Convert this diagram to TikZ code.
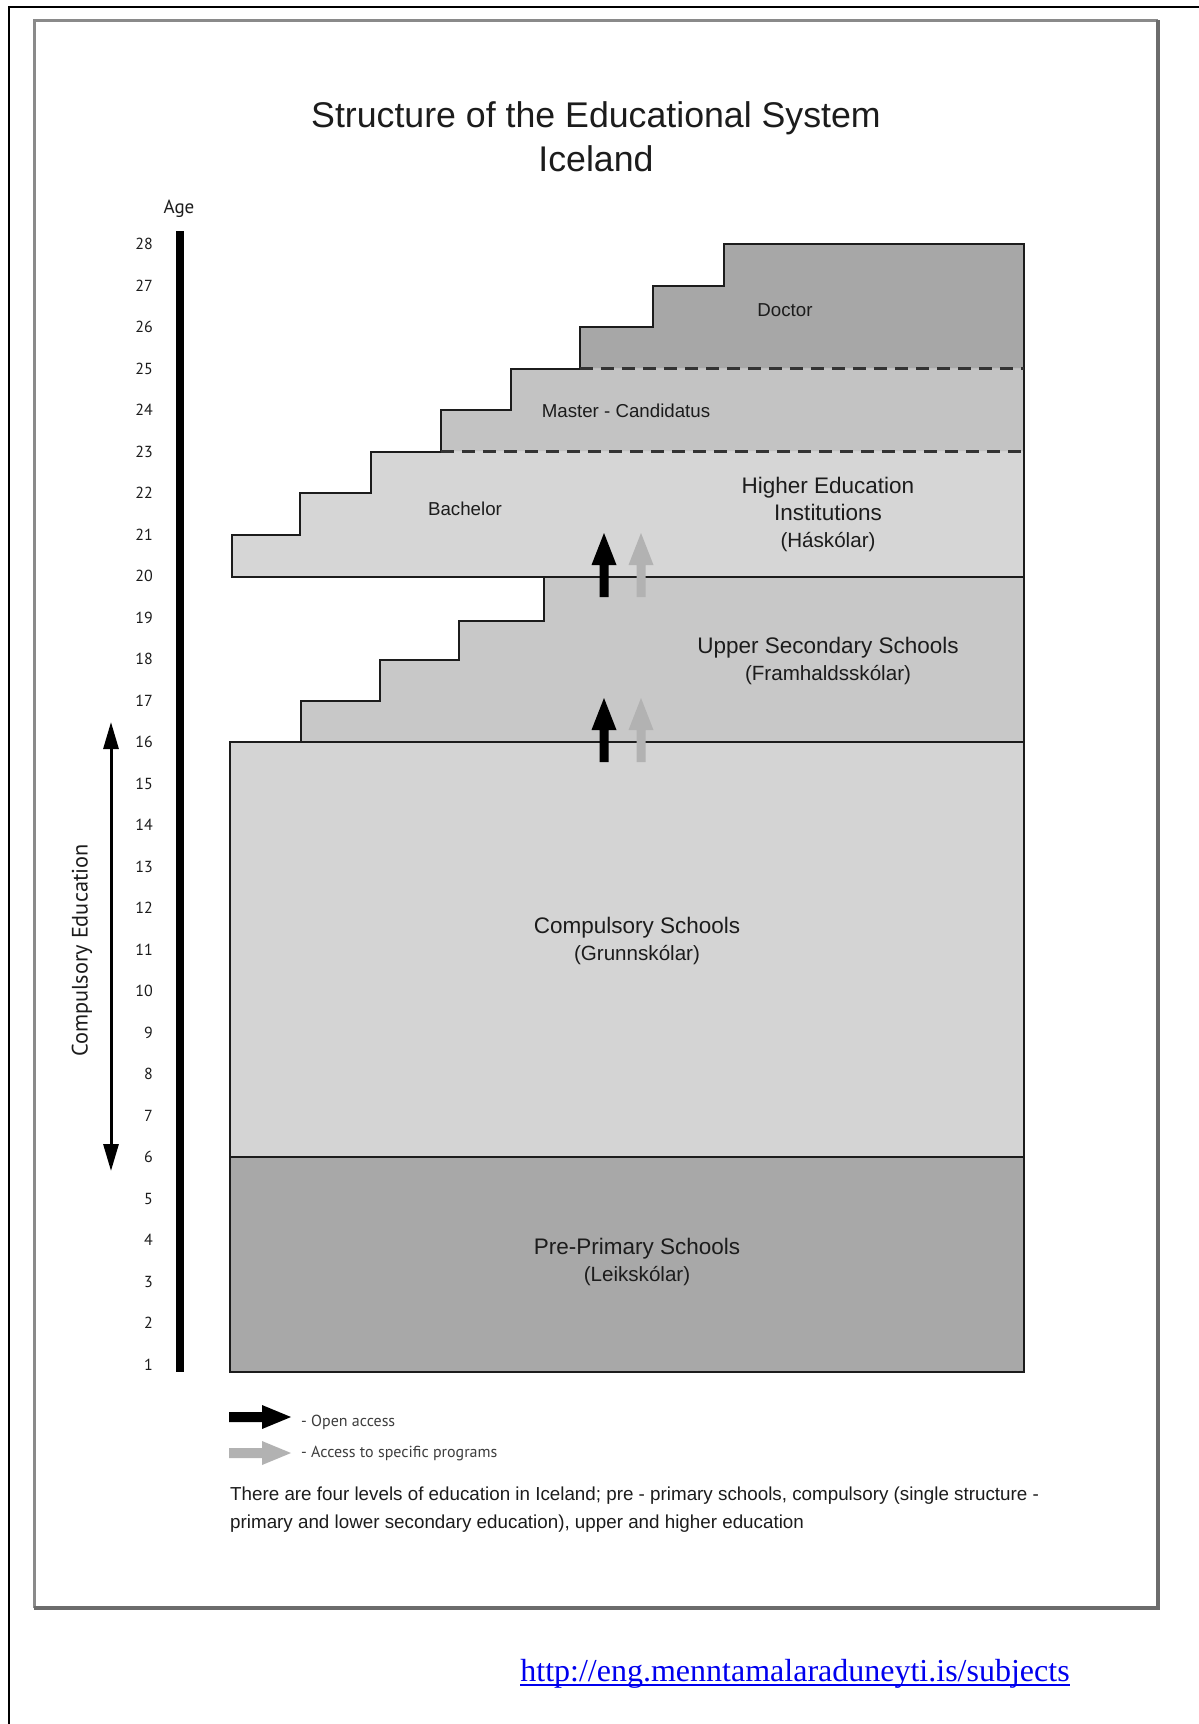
\documentclass[tikz,border=0pt]{standalone}
\usepackage{fontspec}
\setmainfont{Liberation Sans}
\newfontfamily\humanist{PT Sans}
\newfontfamily\urlserif{Liberation Serif}
\usetikzlibrary{arrows.meta}

\definecolor{preprim}{HTML}{A8A8A8}
\definecolor{compul}{HTML}{D4D4D4}
\definecolor{upsec}{HTML}{C8C8C8}
\definecolor{bach}{HTML}{D6D6D6}
\definecolor{master}{HTML}{C3C3C3}
\definecolor{doctor}{HTML}{A7A7A7}
\definecolor{specacc}{HTML}{B2B2B2}
\definecolor{ink}{HTML}{1C1C1C}
\definecolor{frameedge}{HTML}{8A8A8A}
\definecolor{frameshade}{HTML}{6C6C6C}
\definecolor{linkblue}{HTML}{0000EE}

\tikzset{
  boxline/.style={draw=ink, line width=2pt, line join=miter},
  sublevel/.style={draw=ink!90, line width=2.4pt, dash pattern=on 13pt off 8pt},
  smalllbl/.style={text=ink, inner sep=0pt, font=\fontsize{18.7}{22}\selectfont},
  biglbl/.style={text=ink, inner sep=0pt, align=center, font=\fontsize{22.5}{27}\selectfont},
  agenum/.style={anchor=east, inner sep=0pt, text=ink, font=\humanist\fontsize{16}{18}\selectfont},
  legendtxt/.style={anchor=west, inner sep=0pt, text=ink!85, font=\humanist\fontsize{16}{18}\selectfont},
  uparr/.pic={\fill[pic actions] (-4.5,0) -- (-4.5,-32) -- (-12.5,-32) -- (0,-64)
                -- (12.5,-32) -- (4.5,-32) -- (4.5,0) -- cycle;},
  rightarr/.pic={\fill[pic actions] (0,-5) -- (33,-5) -- (33,-12) -- (62,0)
                -- (33,12) -- (33,5) -- (0,5) -- cycle;},
}
\newcommand\sublinefont{\fontsize{20.6}{27}\selectfont}

\begin{document}
\begin{tikzpicture}[x=1pt,y=-1pt]
\useasboundingbox (0,0) rectangle (1199,1724);
\fill[white] (0,0) rectangle (1199,1724);

% page rules and framed panel
\draw[black, line width=2pt] (9,1724) -- (9,7.3) -- (1199,7.3);
\draw[frameedge, line width=3pt] (34,1608) -- (34,20) -- (1158,20);
\draw[frameshade, line width=4.5pt] (34,1608) -- (1158,1608) -- (1158,20);

% title
\node[text=ink, align=center, inner sep=0pt, font=\fontsize{35.7}{44}\selectfont]
  (title) at (596,137) {Structure of the Educational System\\Iceland};

% age scale
\node[text=ink, inner sep=0pt, font=\humanist\fontsize{19}{22}\selectfont] (agehead) at (179,209) {Age};
\fill[black] (176,231) rectangle (184,1372);
\foreach \a in {1,...,28}{
  \pgfmathsetmacro\yy{244+(28-\a)*41.5}
  \node[agenum] (age\a) at (153,\yy) {\a};
}

% compulsory education span
\coordinate (cetop) at (111,722);
\coordinate (cebot) at (111,1171);
\draw[black, line width=3pt, {Triangle[width=15pt,length=27pt]}-{Triangle[width=15pt,length=27pt]}]
  (cetop) -- (cebot);
\node[rotate=90, text=ink, inner sep=0pt, font=\humanist\fontsize{22.3}{26}\selectfont]
  (cetext) at (82,950.5) {Compulsory Education};

% level fills
\fill[preprim] (230,1157) rectangle (1024,1372);
\fill[compul] (230,742) rectangle (1024,1157);
\fill[upsec] (301,742) -- (301,701) -- (380,701) -- (380,660) -- (459,660) -- (459,621)
  -- (544,621) -- (544,576.5) -- (1024,576.5) -- (1024,742) -- cycle;
\fill[bach] (232,576.5) -- (232,534.5) -- (300,534.5) -- (300,493) -- (371,493) -- (371,451.5)
  -- (1024,451.5) -- (1024,576.5) -- cycle;
\fill[master] (441,451.5) -- (441,410) -- (511,410) -- (511,368.5) -- (1024,368.5)
  -- (1024,451.5) -- cycle;
\fill[doctor] (580,368.5) -- (580,327) -- (653,327) -- (653,285.5) -- (724,285.5)
  -- (724,244) -- (1024,244) -- (1024,368.5) -- cycle;

% level outlines
\draw[boxline] (230,1157) rectangle (1024,1372);
\draw[boxline] (230,742) rectangle (1024,1157);
\draw[boxline] (301,742) -- (301,701) -- (380,701) -- (380,660) -- (459,660) -- (459,621)
  -- (544,621) -- (544,576.5) -- (1024,576.5) -- (1024,742);
\draw[boxline] (232,576.5) -- (232,534.5) -- (300,534.5) -- (300,493) -- (371,493) -- (371,451.5)
  -- (441,451.5) -- (441,410) -- (511,410) -- (511,368.5) -- (580,368.5) -- (580,327)
  -- (653,327) -- (653,285.5) -- (724,285.5) -- (724,244) -- (1024,244) -- (1024,576.5) -- cycle;
\draw[sublevel] (441,451.5) -- (1024,451.5);
\draw[sublevel] (580,368.5) -- (1024,368.5);

% labels
\node[smalllbl] (doc) at (785,310.5) {Doctor};
\node[smalllbl] (mas) at (626,410.5) {Master - Candidatus};
\node[smalllbl] (bac) at (465,508.5) {Bachelor};
\node[biglbl] (hei) at (828,514) {Higher Education\\Institutions\\{\sublinefont(Háskólar)}};
\node[biglbl] (uss) at (828,661) {Upper Secondary Schools\\{\sublinefont(Framhaldsskólar)}};
\node[biglbl] (cps) at (637,940.5) {Compulsory Schools\\{\sublinefont(Grunnskólar)}};
\node[biglbl] (pps) at (637,1262) {Pre-Primary Schools\\{\sublinefont(Leikskólar)}};

% access arrows between levels
\pic[fill=black] at (604,597) {uparr};
\pic[fill=specacc] at (641,597) {uparr};
\pic[fill=black] at (604,762) {uparr};
\pic[fill=specacc] at (641,762) {uparr};

% legend
\pic[fill=black] at (229,1417) {rightarr};
\pic[fill=specacc] at (229,1453) {rightarr};
\node[legendtxt] (leg1) at (301,1422.5) {- Open access};
\node[legendtxt] (leg2) at (301,1453.5) {- Access to specific programs};

% caption
\node[anchor=west, align=left, inner sep=0pt, text=ink, font=\fontsize{18.8}{28}\selectfont]
  (caption) at (230,1509.5) {There are four levels of education in Iceland; pre - primary schools, compulsory (single structure -\\primary and lower secondary education), upper and higher education};

% source link
\node[anchor=base, inner sep=0pt, text=linkblue, font=\urlserif\fontsize{32}{36}\selectfont]
  (url) at (795,1681.7) {http://eng.menntamalaraduneyti.is/subjects};
\draw[linkblue, line width=2pt] ([yshift=-3pt]url.base west) -- ([yshift=-3pt]url.base east);
\end{tikzpicture}
\end{document}
